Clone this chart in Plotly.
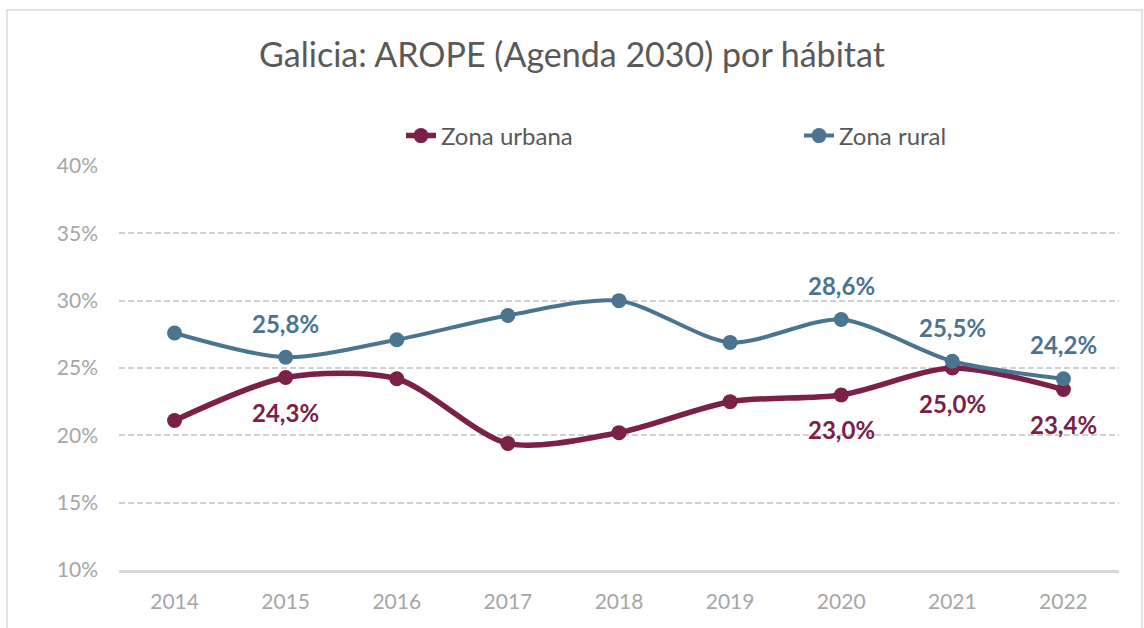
import plotly.graph_objects as go

years = ["2014", "2015", "2016", "2017", "2018", "2019", "2020", "2021", "2022"]
urbana = [21.1, 24.3, 24.2, 19.4, 20.2, 22.5, 23.0, 25.0, 23.4]
rural = [27.6, 25.8, 27.1, 28.9, 30.0, 26.9, 28.6, 25.5, 24.2]
urbana_labelled = ["2015", "2020", "2021", "2022"]
rural_labelled = ["2015", "2020", "2021", "2022"]
y_ticks = [10, 15, 20, 25, 30, 35, 40]
y_tick_labels = ["10%", "15%", "20%", "25%", "30%", "35%", "40%"]

C_URB = "#7B2046"
C_RUR = "#4B7491"
FONT = "Lato, 'Open Sans', sans-serif"

fig = go.Figure()
fig.add_trace(go.Scatter(
    x=years, y=urbana, name="Zona urbana", mode="lines+markers",
    line=dict(color=C_URB, width=5.5, shape="spline", smoothing=0.8),
    marker=dict(size=15, color=C_URB), legend="legend",
))
fig.add_trace(go.Scatter(
    x=years, y=rural, name="Zona rural", mode="lines+markers",
    line=dict(color=C_RUR, width=4, shape="spline", smoothing=0.8),
    marker=dict(size=15, color=C_RUR), legend="legend2",
))

def fmt(v):
    return "<b>" + f"{v:.1f}%".replace(".", ",") + "</b>"

annotations = []
for i, (yr, v) in enumerate(zip(years, urbana)):
    if yr in urbana_labelled:
        annotations.append(dict(x=i, y=v, xref="x", yref="y", text=fmt(v), showarrow=False,
                                yshift=-35, font=dict(family=FONT, size=24, color=C_URB)))
for i, (yr, v) in enumerate(zip(years, rural)):
    if yr in rural_labelled:
        annotations.append(dict(x=i, y=v, xref="x", yref="y", text=fmt(v), showarrow=False,
                                yshift=34, font=dict(family=FONT, size=24, color=C_RUR)))

legend_common = dict(orientation="h", xanchor="left", yanchor="middle",
                     y=1 + (166 - 136) / 404,
                     font=dict(family=FONT, size=24, color="#595959"),
                     bgcolor="rgba(0,0,0,0)")

fig.update_layout(
    width=1144, height=628,
    margin=dict(l=119, r=25, t=166, b=58),
    paper_bgcolor="white", plot_bgcolor="white",
    title=dict(text="Galicia: AROPE (Agenda 2030) por hábitat", x=0.5, xanchor="center",
               y=1 - 55 / 628, yanchor="middle",
               font=dict(family=FONT, size=34, color="#595959")),
    legend=dict(x=0.282, **legend_common),
    legend2=dict(x=0.680, **legend_common),
    xaxis=dict(type="category", range=[-0.5, 8.5], showgrid=False, ticks="",
               showline=True, linecolor="#D9D9D9", linewidth=2.5, ticklabelstandoff=11,
               tickfont=dict(family=FONT, size=21, color="#A6A6A6"), fixedrange=True),
    yaxis=dict(range=[10, 40], tickvals=y_ticks, ticktext=y_tick_labels,
               showgrid=True, gridcolor="#D0D0D0", griddash="6px,3px", gridwidth=1.5,
               zeroline=False, ticks="", ticklabelstandoff=20,
               tickfont=dict(family=FONT, size=21, color="#A6A6A6"), fixedrange=True),
    annotations=annotations,
    showlegend=True,
)
fig.add_shape(type="rect", xref="paper", yref="paper",
              x0=-0.112, x1=1.023, y0=-0.2, y1=(570 - 10) / 404,
              line=dict(color="#D9D9D9", width=1.5), fillcolor="rgba(0,0,0,0)", layer="below")

fig.write_html("out.html", config={"displayModeBar": False},
               post_script="document.body.style.margin='0px';")
